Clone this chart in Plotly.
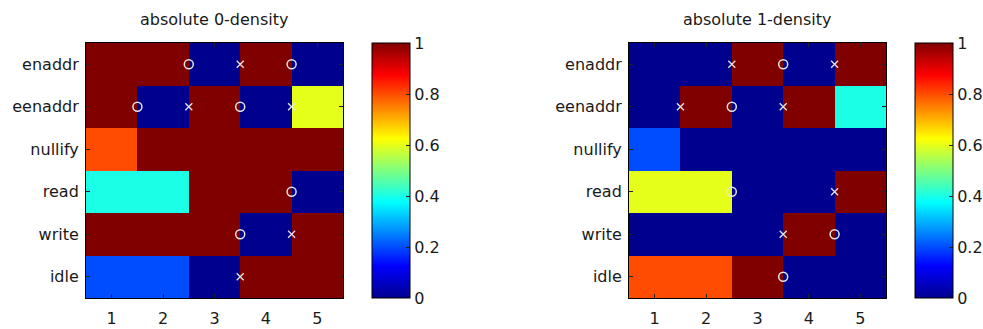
import plotly.graph_objects as go

rows = ["enaddr", "eenaddr", "nullify", "read", "write", "idle"]
cols = [1, 2, 3, 4, 5]

z0 = [
    [1, 1, 0, 1, 0],
    [1, 0, 1, 0, 0.6],
    [0.8, 1, 1, 1, 1],
    [0.4, 0.4, 1, 1, 0],
    [1, 1, 1, 0, 1],
    [0.2, 0.2, 0, 1, 1],
]
z1 = [
    [0, 0, 1, 0, 1],
    [0, 1, 0, 1, 0.4],
    [0.2, 0, 0, 0, 0],
    [0.6, 0.6, 0, 0, 1],
    [0, 0, 0, 1, 0],
    [0.8, 0.8, 1, 0, 0],
]

# transition markers (x = boundary between columns, y = row index 1..6)
circ0_x = [2.5, 4.5, 1.5, 3.5, 4.5, 3.5]
circ0_y = [1, 1, 2, 2, 4, 5]
cross0_x = [3.5, 2.5, 4.5, 4.5, 3.5]
cross0_y = [1, 2, 2, 5, 6]

circ1_x = [3.5, 2.5, 2.5, 4.5, 3.5]
circ1_y = [1, 2, 4, 5, 6]
cross1_x = [2.5, 4.5, 1.5, 3.5, 4.5, 3.5]
cross1_y = [1, 1, 2, 2, 4, 5]

titles = ["absolute 0-density", "absolute 1-density"]
cb_ticks = [0, 0.2, 0.4, 0.6, 0.8, 1]
cb_ticktext = ["0", "0.2", "0.4", "0.6", "0.8", "1"]

jet = [
    [0.0, "rgb(0,0,143)"],
    [0.125, "rgb(0,0,255)"],
    [0.375, "rgb(0,255,255)"],
    [0.625, "rgb(255,255,0)"],
    [0.875, "rgb(255,0,0)"],
    [1.0, "rgb(128,0,0)"],
]

W, H = 983, 329
ML, MR, MT, MB = 5, 5, 30, 5
PW, PH = W - ML - MR, H - MT - MB
FONT = "DejaVu Sans"
TXT = "#1a1a1a"

def px_x(v):
    return (v - ML) / PW

def px_y(v):
    return (H - MB - v) / PH

top, bot = 43, 298
left_axes = (86, 343)
right_axes = (629, 886)
cbar_x = [372, 915]
CB_W = 38

fig = go.Figure()

for i, (z, cx, cy, xx, xy) in enumerate([
    (z0, circ0_x, circ0_y, cross0_x, cross0_y),
    (z1, circ1_x, circ1_y, cross1_x, cross1_y),
]):
    xa = "x" if i == 0 else "x2"
    ya = "y" if i == 0 else "y2"
    fig.add_trace(go.Heatmap(
        z=z, x=cols, y=list(range(1, len(rows) + 1)),
        colorscale=jet, zmin=0, zmax=1,
        xaxis=xa, yaxis=ya,
        colorbar=dict(
            x=px_x(cbar_x[i]), xanchor="left", xpad=0,
            y=px_y((top + bot) / 2), yanchor="middle", ypad=0,
            len=bot - top, lenmode="pixels",
            thickness=CB_W, thicknessmode="pixels",
            outlinewidth=1, outlinecolor="black",
            tickvals=cb_ticks, ticktext=cb_ticktext,
            ticks="inside", ticklen=4, tickcolor="#222",
            tickfont=dict(family=FONT, size=16, color=TXT),
        ),
        hoverinfo="skip",
    ))
    fig.add_trace(go.Scatter(
        x=cx, y=cy, mode="markers", xaxis=xa, yaxis=ya,
        marker=dict(symbol="circle-open", size=9, color="#e6e6e6",
                    line=dict(width=1.5, color="#e6e6e6")),
        showlegend=False, hoverinfo="skip",
    ))
    fig.add_trace(go.Scatter(
        x=xx, y=xy, mode="markers", xaxis=xa, yaxis=ya,
        marker=dict(symbol="x-thin-open", size=7, color="#e6e6e6",
                    line=dict(width=1.3, color="#e6e6e6")),
        showlegend=False, hoverinfo="skip",
    ))
    # tick marks on the left edge of the colour bar (MATLAB style)
    for t in cb_ticks[1:-1]:
        yy = px_y(bot - t * (bot - top))
        fig.add_shape(type="line", xref="paper", yref="paper",
                      x0=px_x(cbar_x[i]), x1=px_x(cbar_x[i] + 4),
                      y0=yy, y1=yy, line=dict(color="#222", width=1))

axis_common = dict(
    showline=True, linecolor="black", linewidth=1, mirror="ticks",
    ticks="inside", ticklen=4, tickcolor="#222", tickwidth=1,
    showgrid=False, zeroline=False, automargin=False,
    tickfont=dict(family=FONT, size=16, color=TXT),
)

for i, (xl, xr) in enumerate([left_axes, right_axes]):
    sx = "" if i == 0 else "2"
    fig.update_layout(**{
        f"xaxis{sx}": dict(
            domain=[px_x(xl), px_x(xr)], range=[0.5, 5.5],
            tickvals=cols, ticktext=[str(c) for c in cols],
            anchor=f"y{sx}", ticklabelstandoff=6, **axis_common,
        ),
        f"yaxis{sx}": dict(
            domain=[px_y(bot), px_y(top)], range=[6.5, 0.5],
            tickvals=list(range(1, len(rows) + 1)), ticktext=rows,
            anchor=f"x{sx}", ticklabelstandoff=3, **axis_common,
        ),
    })
    fig.add_annotation(
        text=titles[i], x=0.5, xref=f"x{sx} domain",
        y=px_y(19), yref="paper", yanchor="middle", xanchor="center",
        showarrow=False, font=dict(family=FONT, size=16, color=TXT),
    )

fig.update_layout(
    width=W, height=H,
    margin=dict(l=ML, r=MR, t=MT, b=MB, autoexpand=False),
    paper_bgcolor="white", plot_bgcolor="white",
    showlegend=False,
)

fig.write_html(
    "out.html",
    config={"displayModeBar": False},
    post_script="document.body.style.margin='0';document.body.style.overflow='hidden';",
)
